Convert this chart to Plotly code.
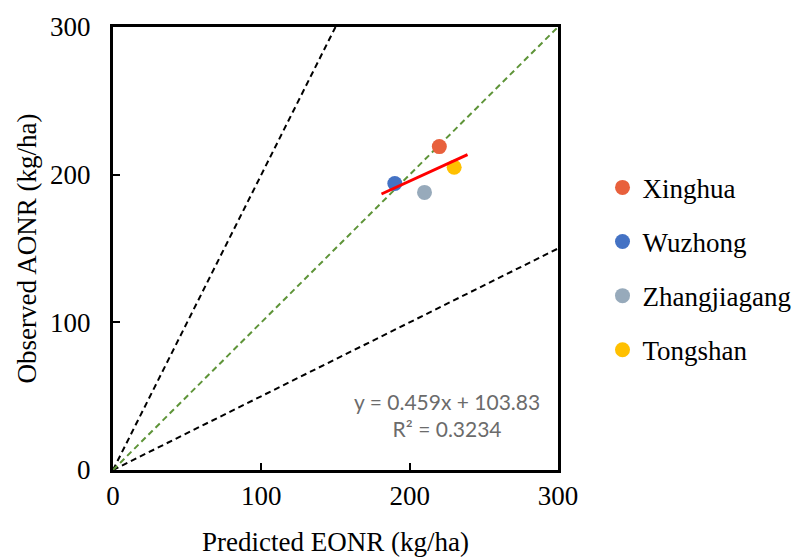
import plotly.graph_objects as go

sites = ["Xinghua", "Wuzhong", "Zhangjiagang", "Tongshan"]
predicted = [220, 190, 210, 230]
observed = [219, 194, 188, 205]
colors = ["#E8603C", "#4472C4", "#97AABB", "#FFC000"]

ref_x = [0, 300]
ref_11 = [0, 300]
ref_2x_x = [0, 150]
ref_2x_y = [0, 300]
ref_half_y = [0, 150]

slope, intercept = 0.459, 103.83
trend_x = [181, 239]
trend_y = [slope * v + intercept for v in trend_x]

fig = go.Figure()
fig.add_trace(go.Scatter(x=ref_2x_x, y=ref_2x_y, mode="lines",
                         line=dict(color="black", dash="6px,4px", width=2), showlegend=False))
fig.add_trace(go.Scatter(x=ref_x, y=ref_half_y, mode="lines",
                         line=dict(color="black", dash="6px,4px", width=2), showlegend=False))
fig.add_trace(go.Scatter(x=ref_x, y=ref_11, mode="lines",
                         line=dict(color="#5E9438", dash="6px,4px", width=2), showlegend=False))
for s, px, oy, c in zip(sites, predicted, observed, colors):
    fig.add_trace(go.Scatter(x=[px], y=[oy], mode="markers", name=s, legendgroup=s,
                             marker=dict(color=c, size=15)))
fig.add_trace(go.Scatter(x=trend_x, y=trend_y, mode="lines",
                         line=dict(color="#FF0000", width=3), showlegend=False))

fig.add_annotation(x=225, y=37, xref="x", yref="y",
                   text=f"y = {slope}x + {intercept}<br>R² = 0.3234",
                   showarrow=False, align="center",
                   font=dict(family="Lato", size=21, color="#6b6b6b"))

serif = "Liberation Serif"
axis_common = dict(range=[0, 300], tickvals=[0, 100, 200, 300], ticks="inside",
                   ticklen=7, tickwidth=2, tickcolor="black",
                   showline=True, linecolor="black", linewidth=3, mirror=True,
                   showgrid=False, zeroline=False, automargin=False,
                   tickfont=dict(family=serif, size=27, color="black"))

fig.update_layout(
    width=793, height=557,
    margin=dict(l=113, r=235, t=27, b=87, autoexpand=False),
    plot_bgcolor="white", paper_bgcolor="white",
    xaxis=dict(**axis_common, title=dict(text="Predicted EONR (kg/ha)",
               font=dict(family=serif, size=27, color="black"), standoff=24)),
    yaxis=dict(**axis_common, ticklabelstandoff=14, title=dict(text="Observed AONR (kg/ha)",
               font=dict(family=serif, size=27, color="black"), standoff=6)),
    legend=dict(x=1.1, y=0.454, xanchor="left", yanchor="middle",
                font=dict(family=serif, size=27, color="black"),
                traceorder="grouped", tracegroupgap=16, itemwidth=30),
)

fig.write_html("out.html", post_script="document.body.style.margin='0';",
               config={"displayModeBar": False})
